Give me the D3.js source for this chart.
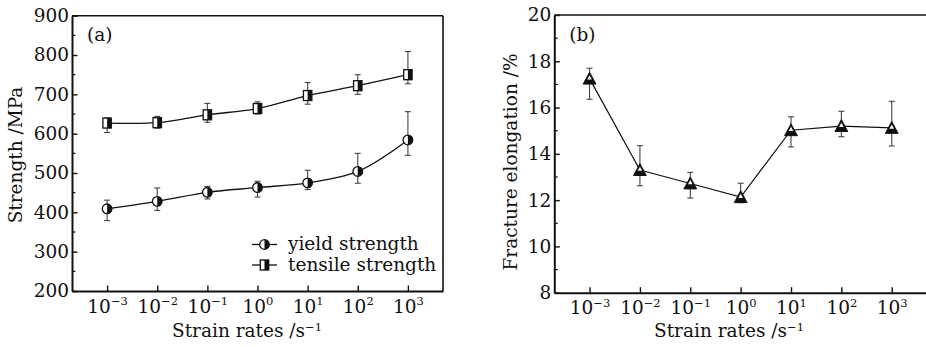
<!DOCTYPE html>
<html>
<head>
<meta charset="utf-8">
<script src="https://cdn.jsdelivr.net/npm/d3@7/dist/d3.min.js"></script>
<style>
  body { margin: 0; background: #fff; }
  svg text { font-family: "DejaVu Serif", "Liberation Serif", serif; fill: #111; }
  .axis path, .axis line { stroke: #111; }
</style>
</head>
<body>
<svg id="chart" width="926" height="347"></svg>
<script>
// strain rate exponents (10^n)
const rateExp = [-3, -2, -1, 0, 1, 2, 3];

// panel (a) strength, MPa
const tensile = [627, 628, 648, 664, 697, 722, 750];
const tensileHi = [640, 644, 677, 681, 730, 750, 809];
const tensileLo = [603, 614, 629, 650, 675, 700, 727];
const yieldS = [409, 428, 451, 463, 475, 504, 584];
const yieldHi = [431, 462, 466, 479, 507, 550, 656];
const yieldLo = [379, 405, 434, 439, 458, 474, 545];
const strengthTicks = [200, 300, 400, 500, 600, 700, 800, 900];

// panel (b) fracture elongation, %
const elong = [17.25, 13.3, 12.72, 12.13, 15.02, 15.2, 15.12];
const elongHi = [17.7, 14.35, 13.2, 12.73, 15.6, 15.84, 16.27];
const elongLo = [16.36, 12.62, 12.09, 11.89, 14.3, 14.74, 14.34];
const elongTicks = [8, 10, 12, 14, 16, 18, 20];

const FS = 18.5;
const svg = d3.select("#chart");

function xAxisLabels(g) {
  g.selectAll(".tick text").each(function (d) {
    const t = d3.select(this).text(null).attr("dy", null).attr("y", 21.5);
    t.append("tspan").text("10");
    t.append("tspan").attr("dy", -7.5).attr("font-size", 11.5).text(String(d).replace("-", "\u2212"));
  });
}

function makePanel(o) {
  const g = svg.append("g");
  const x = d3.scaleLinear().domain([-3.7, 3.7]).range([o.left, o.right]);
  const y = d3.scaleLinear().domain(o.domain).range([o.bottom, o.top]);

  // frame (top/right thinner)
  g.append("line").attr("x1", o.left).attr("x2", o.right).attr("y1", o.top).attr("y2", o.top)
    .attr("stroke", "#111").attr("stroke-width", 1.6);
  g.append("line").attr("x1", o.right).attr("x2", o.right).attr("y1", o.top).attr("y2", o.bottom)
    .attr("stroke", "#111").attr("stroke-width", 1.6);

  // minor y ticks
  g.append("g").selectAll("line").data(o.minor).join("line")
    .attr("x1", o.left).attr("x2", o.left + 3.5)
    .attr("y1", d => y(d)).attr("y2", d => y(d))
    .attr("stroke", "#111").attr("stroke-width", 1.2);

  const ya = g.append("g").attr("class", "axis")
    .attr("transform", "translate(" + o.left + ",0)")
    .call(d3.axisLeft(y).tickValues(o.ticks).tickSizeInner(-5.5).tickSizeOuter(0).tickPadding(3));
  ya.select(".domain").attr("stroke-width", 2);
  ya.selectAll(".tick line").attr("stroke-width", 1.4);
  ya.selectAll(".tick text").attr("font-size", FS);

  const xa = g.append("g").attr("class", "axis")
    .attr("transform", "translate(0," + o.bottom + ")")
    .call(d3.axisBottom(x).tickValues(rateExp).tickSizeInner(-5.5).tickSizeOuter(0));
  xa.select(".domain").attr("stroke-width", 2);
  xa.selectAll(".tick line").attr("stroke-width", 1.4);
  xa.selectAll(".tick text").attr("font-size", FS);
  xa.call(xAxisLabels);

  // axis titles
  const xt = g.append("text").attr("x", o.xTitleX).attr("y", 337).attr("text-anchor", "middle").attr("font-size", FS);
  xt.append("tspan").text("Strain rates /s");
  xt.append("tspan").attr("dy", -6.5).attr("font-size", 11.5).text("\u22121");

  g.append("text").attr("transform", "translate(" + o.yTitleX + "," + o.yTitleY + ") rotate(-90)")
    .attr("text-anchor", "middle").attr("font-size", FS).text(o.yTitle);

  g.append("text").attr("x", o.left + 15).attr("y", 41).attr("font-size", FS).text(o.tag);

  return { g, x, y };
}

function errorBars(p, vals, hi, lo) {
  const eb = p.g.append("g").attr("stroke", "#444").attr("stroke-width", 1.1);
  rateExp.forEach((r, i) => {
    const cx = p.x(r);
    eb.append("line").attr("x1", cx).attr("x2", cx).attr("y1", p.y(hi[i])).attr("y2", p.y(lo[i]));
    [hi[i], lo[i]].forEach(v => {
      eb.append("line").attr("x1", cx - 3).attr("x2", cx + 3).attr("y1", p.y(v)).attr("y2", p.y(v));
    });
  });
}

function circleMark(sel, cx, cy) {
  const r = 4.8;
  sel.append("circle").attr("cx", cx).attr("cy", cy).attr("r", r).attr("fill", "#fff").attr("stroke", "#111").attr("stroke-width", 1.3);
  sel.append("path").attr("d", `M${cx},${cy - r} A${r},${r} 0 0 1 ${cx},${cy + r} Z`).attr("fill", "#111");
}

function squareMark(sel, cx, cy) {
  const w = 4.2, h = 5;
  sel.append("rect").attr("x", cx - w).attr("y", cy - h).attr("width", 2 * w).attr("height", 2 * h)
    .attr("fill", "#fff").attr("stroke", "#111").attr("stroke-width", 1.3);
  sel.append("rect").attr("x", cx).attr("y", cy - h).attr("width", w).attr("height", 2 * h).attr("fill", "#111");
}

function triMark(sel, cx, cy) {
  const s = 6.4;
  sel.append("path").attr("d", `M${cx},${cy - s} L${cx + s},${cy + s * 0.85} L${cx - s},${cy + s * 0.85} Z`)
    .attr("fill", "#111").attr("stroke", "#111").attr("stroke-width", 1);
  sel.append("path").attr("d", `M${cx},${cy - s + 3} L${cx + 2.3},${cy + 0.8} L${cx - 2.3},${cy + 0.8} Z`)
    .attr("fill", "#fff");
}

// ---- panel (a)
const pa = makePanel({
  left: 72, right: 443, top: 15.7, bottom: 291,
  domain: [200, 900], ticks: strengthTicks,
  minor: d3.range(250, 900, 100),
  xTitleX: 247, yTitleX: 22, yTitleY: 155, yTitle: "Strength /MPa", tag: "(a)"
});

errorBars(pa, tensile, tensileHi, tensileLo);
errorBars(pa, yieldS, yieldHi, yieldLo);

const smooth = d3.line().x((d, i) => pa.x(rateExp[i])).y(d => pa.y(d)).curve(d3.curveCatmullRom.alpha(0.5));
pa.g.append("path").datum(tensile).attr("d", smooth).attr("fill", "none").attr("stroke", "#111").attr("stroke-width", 1.3);
pa.g.append("path").datum(yieldS).attr("d", smooth).attr("fill", "none").attr("stroke", "#111").attr("stroke-width", 1.3);

const ma = pa.g.append("g");
rateExp.forEach((r, i) => {
  squareMark(ma, pa.x(r), pa.y(tensile[i]));
  circleMark(ma, pa.x(r), pa.y(yieldS[i]));
});

// legend
const leg = pa.g.append("g");
[["yield strength", circleMark, 244.5], ["tensile strength", squareMark, 265]].forEach(([label, mark, ly]) => {
  leg.append("line").attr("x1", 252).attr("x2", 277).attr("y1", ly).attr("y2", ly).attr("stroke", "#111").attr("stroke-width", 1.3);
  mark(leg, 264.5, ly);
  leg.append("text").attr("x", 288).attr("y", ly + 5.5).attr("font-size", FS).text(label);
});

// ---- panel (b)
const pb = makePanel({
  left: 554.3, right: 927, top: 15, bottom: 292.7,
  domain: [8, 20], ticks: elongTicks,
  minor: d3.range(9, 20, 2),
  xTitleX: 729, yTitleX: 517, yTitleY: 162, yTitle: "Fracture elongation /%", tag: "(b)"
});

errorBars(pb, elong, elongHi, elongLo);
const straight = d3.line().x((d, i) => pb.x(rateExp[i])).y(d => pb.y(d));
pb.g.append("path").datum(elong).attr("d", straight).attr("fill", "none").attr("stroke", "#111").attr("stroke-width", 1.2);
const mb = pb.g.append("g");
rateExp.forEach((r, i) => triMark(mb, pb.x(r), pb.y(elong[i])));
</script>
</body>
</html>
